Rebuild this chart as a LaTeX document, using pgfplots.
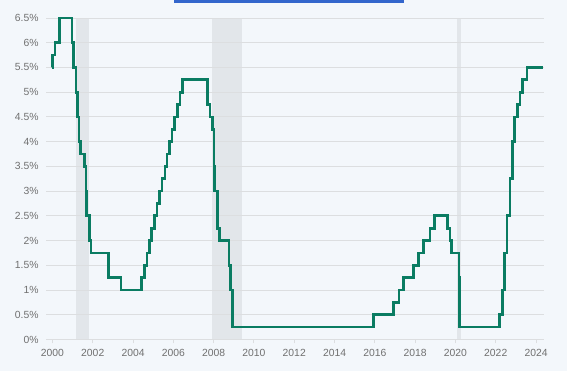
\documentclass[border=0pt]{standalone}
\usepackage{pgfplots}
\pgfplotsset{compat=1.18}
\usepackage{fontspec}
\setmainfont{Liberation Sans}
\definecolor{bg}{HTML}{F3F7FB}
\definecolor{recess}{HTML}{E2E6EA}
\definecolor{gridc}{HTML}{DCDEE0}
\definecolor{linec}{HTML}{0A7C62}
\definecolor{labc}{HTML}{707070}
\definecolor{barblue}{HTML}{3366CC}
\begin{document}
\begin{tikzpicture}[x=1bp,y=1bp]
\begin{axis}[
  set layers,
  at={(46bp,31.5bp)}, anchor=south west,
  scale only axis, width=497.5bp, height=321.5bp,
  xmin=1999.68, xmax=2024.37, ymin=0, ymax=6.5,
  axis line style={draw=none},
  xtick={2000,2002,...,2024},
  xticklabels={2000,2002,2004,2006,2008,2010,2012,2014,2016,2018,2020,2022,2024},
  ytick={0,0.5,...,6.5},
  yticklabels={0\%,0.5\%,1\%,1.5\%,2\%,2.5\%,3\%,3.5\%,4\%,4.5\%,5\%,5.5\%,6\%,6.5\%},
  xtick pos=bottom, ytick pos=left,
  tick align=outside,
  major tick length=4bp,
  xtick style={draw=gridc, line width=0.9bp},
  ytick style={draw=none},
  ymajorgrids, grid style={draw=gridc, line width=0.9bp},
  tick label style={font=\fontsize{10.4}{12}\selectfont, text=labc},
  xticklabel style={yshift=-2bp},
  clip=false,
]
\begin{pgfonlayer}{axis background}
\fill[bg] (rel axis cs:-0.092462,-0.097978) rectangle (rel axis cs:1.047236,1.055988);
\fill[barblue] (rel axis cs:0.257286,1.045724) rectangle (rel axis cs:0.719598,1.055988);
\end{pgfonlayer}
\addplot[fill=recess, draw=none, on layer=axis background, forget plot] coordinates {(2001.16,0) (2001.16,6.5) (2001.79,6.5) (2001.79,0)} -- cycle;
\addplot[fill=recess, draw=none, on layer=axis background, forget plot] coordinates {(2007.92,0) (2007.92,6.5) (2009.40,6.5) (2009.40,0)} -- cycle;
\addplot[fill=recess, draw=none, on layer=axis background, forget plot] coordinates {(2020.07,0) (2020.07,6.5) (2020.26,6.5) (2020.26,0)} -- cycle;
\addplot[const plot, color=linec, line width=2.7bp, line join=miter, mark=none] coordinates {
(2000.00,5.5) (2000.01,5.75) (2000.13,6.0) (2000.34,6.5)
(2000.97,6.0) (2001.04,5.5) (2001.17,5.0) (2001.25,4.5) (2001.32,4.0)
(2001.40,3.75) (2001.60,3.5) (2001.66,3.0) (2001.69,2.5) (2001.83,2.0)
(2001.92,1.75) (2002.77,1.25) (2003.40,1.0)
(2004.42,1.25) (2004.58,1.5) (2004.69,1.75) (2004.83,2.0) (2004.92,2.25)
(2005.06,2.5) (2005.19,2.75) (2005.31,3.0) (2005.44,3.25) (2005.58,3.5)
(2005.69,3.75) (2005.81,4.0) (2005.93,4.25) (2006.06,4.5) (2006.20,4.75)
(2006.33,5.0) (2006.47,5.25)
(2007.71,4.75) (2007.82,4.5) (2007.94,4.25) (2008.02,3.5) (2008.04,3.0)
(2008.18,2.25) (2008.30,2.0) (2008.76,1.5) (2008.85,1.0) (2008.93,0.25)
(2015.93,0.5) (2016.94,0.75) (2017.20,1.0) (2017.41,1.25) (2017.91,1.5)
(2018.16,1.75) (2018.41,2.0) (2018.74,2.25) (2018.95,2.5)
(2019.60,2.25) (2019.73,2.0) (2019.82,1.75) (2020.18,1.25) (2020.20,0.25)
(2022.18,0.5) (2022.33,1.0) (2022.45,1.75) (2022.56,2.5) (2022.71,3.25)
(2022.82,4.0) (2022.92,4.5) (2023.07,4.75) (2023.20,5.0) (2023.32,5.25)
(2023.55,5.5) (2024.33,5.5)
};
\end{axis}
\end{tikzpicture}
\end{document}
